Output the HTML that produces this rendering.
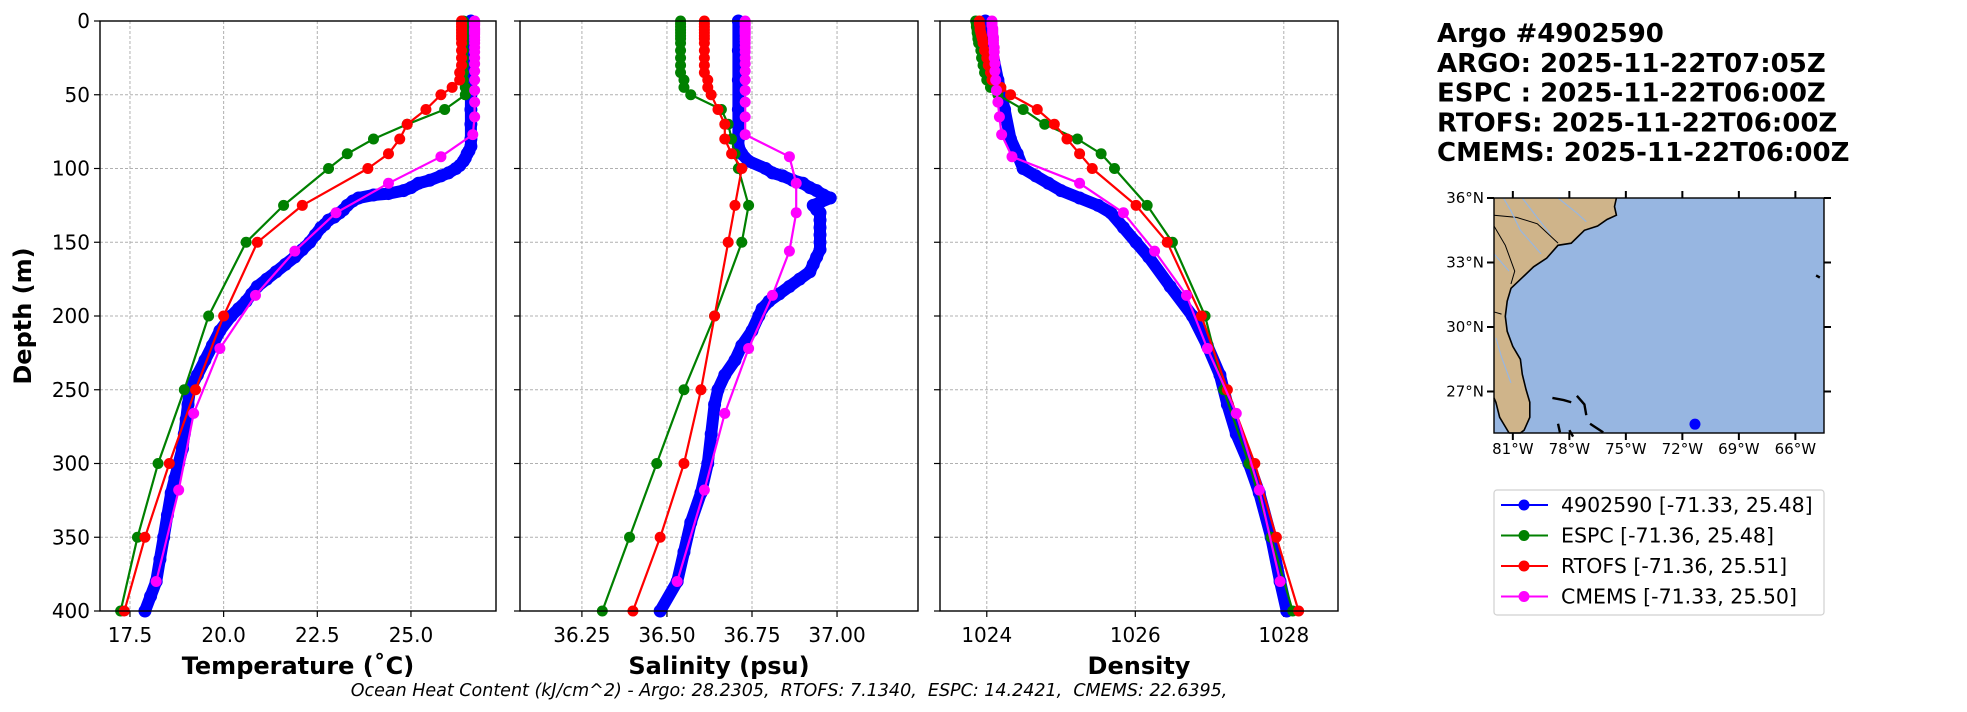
<!DOCTYPE html>
<html><head><meta charset="utf-8"><style>
html,body{margin:0;padding:0;background:#fff;}
svg{display:block;font-family:"DejaVu Sans","Liberation Sans",sans-serif;}
</style></head><body>
<svg id="fig" width="1967" height="712" viewBox="0 0 1967 712"></svg>
<script>
// ---- data ----
const argoDepth=[0,5,10,20,30,40,50,60,70,80,85,88,90,93,95,98,100,103,105,108,110,113,115,117,118,120,122,125,128,130,133,135,138,140,145,150,155,160,165,170,175,180,185,190,195,200,210,220,230,240,250,260,270,280,290,300,310,320,335,350,365,380,390,400];
const argoTemp=[26.6,26.6,26.6,26.6,26.6,26.6,26.6,26.6,26.6,26.6,26.6,26.55,26.5,26.45,26.4,26.3,26.2,26.0,25.8,25.5,25.2,25.0,24.8,24.4,24.0,23.6,23.45,23.3,23.2,23.1,22.95,22.8,22.7,22.6,22.45,22.3,22.1,21.9,21.65,21.4,21.15,20.9,20.75,20.6,20.4,20.2,19.9,19.7,19.5,19.3,19.1,19.05,19.0,18.95,18.9,18.8,18.7,18.6,18.5,18.4,18.3,18.2,18.05,17.9];
const argoSalDepth=[0,20,40,60,80,85,90,95,100,103,105,108,110,113,115,118,120,123,125,128,130,135,140,145,150,155,160,165,170,175,180,185,190,195,200,210,220,230,240,250,260,280,300,320,340,360,380,400];
const argoSal=[36.71,36.71,36.71,36.71,36.71,36.71,36.72,36.74,36.79,36.81,36.84,36.87,36.90,36.92,36.94,36.96,36.98,36.95,36.93,36.94,36.95,36.95,36.95,36.95,36.95,36.95,36.94,36.93,36.92,36.89,36.86,36.83,36.80,36.78,36.77,36.75,36.72,36.70,36.67,36.65,36.64,36.63,36.62,36.60,36.57,36.55,36.53,36.48];
const argoDenDepth=[0,20,40,60,80,90,100,105,110,115,120,125,130,140,150,160,180,200,220,240,260,280,300,320,350,380,400];
const argoDen=[1023.98,1024.07,1024.15,1024.24,1024.32,1024.41,1024.49,1024.66,1024.83,1025.0,1025.25,1025.5,1025.67,1025.84,1026.01,1026.18,1026.47,1026.77,1026.97,1027.14,1027.24,1027.36,1027.53,1027.67,1027.83,1027.95,1028.04];

const espcDepth=[0,2,4,6,8,10,12,15,20,25,30,35,40,45,50,60,70,80,90,100,125,150,200,250,300,350,400];
const espcTemp=[26.4,26.4,26.4,26.4,26.4,26.4,26.4,26.4,26.4,26.4,26.4,26.4,26.4,26.45,26.45,25.9,24.9,24.0,23.3,22.8,21.6,20.6,19.6,18.95,18.25,17.7,17.25];
const espcSal=[36.54,36.54,36.54,36.54,36.54,36.54,36.54,36.54,36.54,36.54,36.54,36.54,36.55,36.55,36.57,36.66,36.68,36.69,36.70,36.71,36.74,36.72,36.64,36.55,36.47,36.39,36.31];
const espcDen=[1023.85,1023.86,1023.86,1023.87,1023.87,1023.88,1023.88,1023.89,1023.92,1023.93,1023.95,1023.97,1024.0,1024.05,1024.15,1024.49,1024.78,1025.22,1025.54,1025.72,1026.16,1026.5,1026.94,1027.19,1027.53,1027.83,1028.12];

const rtofsDepth=[0,2,4,6,8,10,12,15,20,25,30,35,40,45,50,60,70,80,90,100,125,150,200,250,300,350,400];
const rtofsTemp=[26.35,26.35,26.35,26.35,26.35,26.35,26.35,26.35,26.35,26.35,26.35,26.3,26.3,26.1,25.8,25.4,24.9,24.7,24.4,23.85,22.1,20.9,20.0,19.25,18.55,17.9,17.35];
const rtofsSal=[36.61,36.61,36.61,36.61,36.61,36.61,36.61,36.61,36.61,36.61,36.61,36.61,36.62,36.62,36.63,36.65,36.67,36.67,36.69,36.72,36.70,36.68,36.64,36.60,36.55,36.48,36.40];
const rtofsDen=[1023.9,1023.9,1023.91,1023.91,1023.92,1023.93,1023.94,1023.95,1023.97,1024.0,1024.02,1024.05,1024.07,1024.19,1024.32,1024.68,1024.91,1025.08,1025.25,1025.42,1026.01,1026.43,1026.89,1027.24,1027.61,1027.9,1028.2];

const cmemsDepth=[0,1,2,3,5,6,7,8,9,11,13,15,18,21,25,29,34,40,47,55,65,77,92,110,130,156,186,222,266,318,380];
const cmemsTemp=[26.7,26.7,26.7,26.7,26.7,26.7,26.7,26.7,26.7,26.7,26.7,26.7,26.7,26.7,26.7,26.7,26.7,26.7,26.7,26.7,26.7,26.65,25.8,24.4,23.0,21.9,20.85,19.9,19.2,18.8,18.2];
const cmemsSal=[36.73,36.73,36.73,36.73,36.73,36.73,36.73,36.73,36.73,36.73,36.73,36.73,36.73,36.73,36.73,36.73,36.73,36.73,36.73,36.73,36.73,36.73,36.86,36.88,36.88,36.86,36.81,36.74,36.67,36.61,36.53];
const cmemsDen=[1024.07,1024.07,1024.07,1024.07,1024.08,1024.08,1024.08,1024.08,1024.08,1024.09,1024.09,1024.09,1024.1,1024.1,1024.1,1024.11,1024.11,1024.12,1024.13,1024.15,1024.17,1024.2,1024.34,1025.25,1025.84,1026.26,1026.69,1026.97,1027.36,1027.67,1027.95];

const depthTicks=[0,50,100,150,200,250,300,350,400];
const tempTicks=[17.5,20.0,22.5,25.0];
const salTicks=[36.25,36.50,36.75,37.00];
const denTicks=[1024,1026,1028];
const argoLon=-71.33, argoLat=25.48;

// ---- helpers ----
const NS="http://www.w3.org/2000/svg";
const svg=document.getElementById('fig');
function mk(tag,attrs,parent){const e=document.createElementNS(NS,tag);for(const k in attrs)e.setAttribute(k,attrs[k]);(parent||svg).appendChild(e);return e;}
function txt(s,attrs,parent){const e=mk('text',attrs,parent);e.textContent=s;return e;}

const Y0=21,Y1=611;
const yScale=d=>Y0+(d/400)*(Y1-Y0);
const panels=[
 {name:'temperature',x0:100,x1:496,min:16.7,max:27.27,ticks:tempTicks,fmt:v=>v.toFixed(1),label:'Temperature (˚C)',
  series:[[argoDepth,argoTemp],[espcDepth,espcTemp],[rtofsDepth,rtofsTemp],[cmemsDepth,cmemsTemp]]},
 {name:'salinity',x0:520,x1:918,min:36.068,max:37.238,ticks:salTicks,fmt:v=>v.toFixed(2),label:'Salinity (psu)',
  series:[[argoSalDepth,argoSal],[espcDepth,espcSal],[rtofsDepth,rtofsSal],[cmemsDepth,cmemsSal]]},
 {name:'density',x0:940,x1:1338,min:1023.37,max:1028.73,ticks:denTicks,fmt:v=>String(v),label:'Density',
  series:[[argoDenDepth,argoDen],[espcDepth,espcDen],[rtofsDepth,rtofsDen],[cmemsDepth,cmemsDen]]}
];
const colors=['#0000ff','#008000','#ff0000','#ff00ff'];
const snames=['argo','espc','rtofs','cmems'];

panels.forEach((p,pi)=>{
  const g=mk('g',{});
  
  
  const xs=v=>p.x0+(v-p.min)/(p.max-p.min)*(p.x1-p.x0);
  depthTicks.forEach(d=>{const l=mk('line',{x1:p.x0,x2:p.x1,y1:yScale(d),y2:yScale(d),stroke:'#b0b0b0','stroke-width':1,'stroke-dasharray':'3,2'},g);
    });
  p.ticks.forEach(t=>{const X=xs(t);const l=mk('line',{x1:X,x2:X,y1:Y0,y2:Y1,stroke:'#b0b0b0','stroke-width':1,'stroke-dasharray':'3,2'},g);
    
    mk('line',{x1:X,x2:X,y1:Y1,y2:Y1+6,stroke:'#000','stroke-width':1.2},g);
    const tl=txt(p.fmt(t),{x:X,y:Y1+31,'font-size':20,'text-anchor':'middle'},g);
    });
  if(pi===0){depthTicks.forEach(d=>{mk('line',{x1:p.x0-6,x2:p.x0,y1:yScale(d),y2:yScale(d),stroke:'#000','stroke-width':1.2},g);
    const tl=txt(String(d),{x:p.x0-10,y:yScale(d)+7,'font-size':20,'text-anchor':'end'},g);
    });}
  else{depthTicks.forEach(d=>{mk('line',{x1:p.x0-6,x2:p.x0,y1:yScale(d),y2:yScale(d),stroke:'#000','stroke-width':1.2},g);});}
  const clip=mk('clipPath',{id:'clip'+pi},g);mk('rect',{x:p.x0,y:Y0-8,width:p.x1-p.x0,height:Y1-Y0+16},clip);
  const sg=mk('g',{'clip-path':'url(#clip'+pi+')'},g);
  p.series.forEach((s,si)=>{
    const [D,V]=s;
    const pts=D.map((d,i)=>xs(V[i]).toFixed(1)+','+yScale(d).toFixed(1)).join(' ');
    const pl=mk('polyline',{points:pts,fill:'none',stroke:colors[si],'stroke-width':si===0?12:2.2,'stroke-linejoin':'round','stroke-linecap':'round'},sg);
    
    D.forEach((d,i)=>{const c=mk('circle',{cx:xs(V[i]),cy:yScale(d),r:si===0?6.5:5.5,fill:colors[si]},sg);
      });
  });
  const fr=mk('rect',{x:p.x0,y:Y0,width:p.x1-p.x0,height:Y1-Y0,fill:'none',stroke:'#000','stroke-width':1.4},g);
  
  const xl=txt(p.label,{x:(p.x0+p.x1)/2,y:674,'font-size':24,'font-weight':'bold','text-anchor':'middle'},g);
  
});
const yl=txt('Depth (m)',{x:0,y:0,'font-size':24,'font-weight':'bold','text-anchor':'middle',transform:'translate(31,316) rotate(-90)'});

const ohc=txt('Ocean Heat Content (kJ/cm^2) - Argo: 28.2305,\u00a0 RTOFS: 7.1340,\u00a0 ESPC: 14.2421,\u00a0 CMEMS: 22.6395,',{x:789,y:696,'font-size':17.5,'font-style':'italic','text-anchor':'middle'});


const titles=['Argo #4902590','ARGO: 2025-11-22T07:05Z','ESPC : 2025-11-22T06:00Z','RTOFS: 2025-11-22T06:00Z','CMEMS: 2025-11-22T06:00Z'];
titles.forEach((t,i)=>{const e=txt(t,{x:1437,y:42+i*29.8,'font-size':26,'font-weight':'bold'});
  });

// map
const MX0=1494,MX1=1824,MY0=198,MY1=433;
const lonMin=-82,lonMax=-64.48,latMin=25.07,latMax=36;
const mx=l=>MX0+(l-lonMin)/(lonMax-lonMin)*(MX1-MX0);
const my=l=>MY0+(latMax-l)/(latMax-latMin)*(MY1-MY0);
const mg=mk('g',{});
mk('rect',{x:MX0,y:MY0,width:MX1-MX0,height:MY1-MY0,fill:'#97b6e1'},mg);
const coast=[[-75.5,36],[-75.6,35.6],[-75.5,35.2],[-76.0,35.0],[-76.5,34.7],[-77.2,34.5],[-77.9,33.9],[-78.6,33.8],[-79.2,33.2],[-79.9,32.8],[-80.5,32.3],[-81.1,31.8],[-81.3,31.2],[-81.4,30.5],[-81.3,29.8],[-81.0,29.1],[-80.6,28.5],[-80.5,27.8],[-80.3,27.1],[-80.1,26.5],[-80.1,25.8],[-80.4,25.2],[-80.6,25.07]];
const landPts=[[lonMin,latMax]].concat(coast).concat([[-81.2,25.07],[-81.7,25.8],[-81.9,26.5],[-82,26.7]]);
const lp=mk('polygon',{points:landPts.map(q=>mx(q[0]).toFixed(1)+','+my(q[1]).toFixed(1)).join(' '),fill:'#cfb48a',stroke:'none'},mg);

mk('polyline',{points:coast.map(q=>mx(q[0]).toFixed(1)+','+my(q[1]).toFixed(1)).join(' ')+' '+mx(-81.2)+','+my(25.07),fill:'none',stroke:'#000','stroke-width':1.6},mg);
mk('polyline',{points:[[-81.2,25.07],[-81.7,25.8],[-81.9,26.5],[-82,26.7]].map(q=>mx(q[0])+','+my(q[1])).join(' '),fill:'none',stroke:'#000','stroke-width':1.6},mg);
mk('polyline',{points:[[-82,35.2],[-80.8,35.1],[-79.7,34.8],[-78.6,33.9]].map(q=>mx(q[0])+','+my(q[1])).join(' '),fill:'none',stroke:'#000','stroke-width':1},mg);
mk('polyline',{points:[[-82,34.7],[-81.4,33.8],[-80.9,32.6],[-81.1,32.0]].map(q=>mx(q[0])+','+my(q[1])).join(' '),fill:'none',stroke:'#000','stroke-width':1},mg);
mk('polyline',{points:[[-82,30.7],[-81.6,30.6]].map(q=>mx(q[0])+','+my(q[1])).join(' '),fill:'none',stroke:'#000','stroke-width':1},mg);
[[[-81.5,36],[-81.1,35.4],[-80.6,34.5],[-79.5,33.4]],[[-80.5,36],[-79.8,35.2],[-79.0,34.3]],[[-78.6,36],[-77.6,35.3],[-77.1,34.9]],[[-82,33.4],[-81.2,32.6]],[[-81.9,29.5],[-81.6,28.6],[-81.1,27.4]]].forEach(r=>{
  mk('polyline',{points:r.map(q=>mx(q[0])+','+my(q[1])).join(' '),fill:'none',stroke:'#97b6e1','stroke-width':1.2},mg);});
[[[-78.9,26.7],[-78.3,26.6],[-77.9,26.5]],[[-77.6,26.8],[-77.2,26.4],[-77.1,25.9]],[[-78.0,25.2],[-77.8,24.9]],[[-76.9,25.5],[-76.2,25.1]],[[-78.6,25.5],[-78.5,25.1]],[[-64.9,32.4],[-64.7,32.3]]].forEach(r=>{
  const b=mk('polyline',{points:r.map(q=>mx(q[0])+','+my(q[1])).join(' '),fill:'none',stroke:'#000','stroke-width':2.4},mg);
  });
const dot=mk('circle',{cx:mx(argoLon),cy:my(argoLat),r:5.5,fill:'#0000ff'},mg);

mk('rect',{x:MX0,y:MY0,width:MX1-MX0,height:MY1-MY0,fill:'none',stroke:'#000','stroke-width':1.4},mg);
const lonTicks=[-81,-78,-75,-72,-69,-66], latTicks=[36,33,30,27];
lonTicks.forEach(l=>{const X=mx(l);mk('line',{x1:X,x2:X,y1:MY1,y2:MY1+7,stroke:'#000','stroke-width':2},mg);mk('line',{x1:X,x2:X,y1:MY0-7,y2:MY0,stroke:'#000','stroke-width':2},mg);
  const t=txt(Math.abs(l)+'°W',{x:X,y:MY1+21,'font-size':15,'text-anchor':'middle'},mg);});
latTicks.forEach(l=>{const Y=my(l);mk('line',{x1:MX0-7,x2:MX0,y1:Y,y2:Y,stroke:'#000','stroke-width':2},mg);mk('line',{x1:MX1,x2:MX1+7,y1:Y,y2:Y,stroke:'#000','stroke-width':2},mg);
  const t=txt(l+'°N',{x:MX0-10,y:Y+5,'font-size':15,'text-anchor':'end'},mg);});

const lg=mk('g',{});
mk('rect',{x:1494,y:490,width:330,height:125,rx:3,fill:'#fff',stroke:'#d0d0d0','stroke-width':1.2},lg);
const legTexts=['4902590 [-71.33, 25.48]','ESPC [-71.36, 25.48]','RTOFS [-71.36, 25.51]','CMEMS [-71.33, 25.50]'];
legTexts.forEach((t,i)=>{const Y=505+i*30.5;const e=mk('g',{},lg);
  
  mk('line',{x1:1501,x2:1548,y1:Y,y2:Y,stroke:colors[i],'stroke-width':2},e);
  mk('circle',{cx:1524,cy:Y,r:5.5,fill:colors[i]},e);
  txt(t,{x:1561,y:Y+7,'font-size':20.5},e);});
</script>
</body></html>
